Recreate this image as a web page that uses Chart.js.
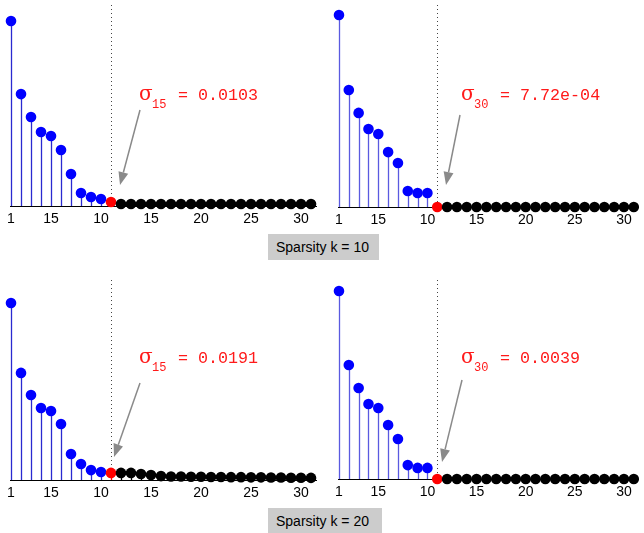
<!DOCTYPE html>
<html>
<head>
<meta charset="utf-8">
<script src="https://cdn.jsdelivr.net/npm/chart.js@4.4.1/dist/chart.umd.min.js"></script>
<style>
  body { margin: 0; background: #fff; width: 644px; height: 533px; overflow: hidden; position: relative; }
  canvas { position: absolute; }
  .box { position: absolute; background: #cccccc; font-family: "Liberation Sans", Arial, sans-serif; font-size: 14px; color: #000; box-sizing: border-box; padding-left: 8px; line-height: 26px; }
</style>
</head>
<body>
<canvas id="p1" width="322" height="230" style="left:0;top:0"></canvas>
<canvas id="p2" width="322" height="231" style="left:322px;top:0"></canvas>
<canvas id="p3" width="322" height="239" style="left:0;top:265px"></canvas>
<canvas id="p4" width="322" height="238" style="left:322px;top:265px"></canvas>
<div class="box" id="box1" style="left:268px;top:234px;width:111px;height:26px"></div>
<div class="box" id="box2" style="left:268px;top:508px;width:114px;height:25px"></div>
<script>
// index of each singular value
const idx = [1, 2, 3, 4, 5, 6, 7, 8, 9, 10, 11, 12, 13, 14, 15, 16, 17, 18, 19, 20,
  21, 22, 23, 24, 25, 26, 27, 28, 29, 30, 31];

// normalised values
const k10Left = [1, 0.605, 0.481, 0.4, 0.378, 0.303, 0.173, 0.07, 0.049, 0.038, 0.022,
  0.011, 0.011, 0.011, 0.011, 0.011, 0.011, 0.011, 0.011, 0.011, 0.011,
  0.011, 0.011, 0.011, 0.011, 0.011, 0.011, 0.011, 0.011, 0.011, 0.011];
const k10Right = [1, 0.609, 0.49, 0.406, 0.38, 0.286, 0.229, 0.083, 0.073, 0.073, 0,
  0, 0, 0, 0, 0, 0, 0, 0, 0, 0, 0, 0, 0, 0, 0, 0, 0, 0, 0, 0];
const k20Left = [1, 0.605, 0.48, 0.407, 0.39, 0.316, 0.147, 0.09, 0.056, 0.045, 0.04,
  0.04, 0.04, 0.034, 0.028, 0.022, 0.02, 0.02, 0.018, 0.018, 0.017,
  0.017, 0.016, 0.016, 0.015, 0.015, 0.014, 0.014, 0.013, 0.013, 0.012];
const k20Right = [1, 0.606, 0.484, 0.399, 0.378, 0.287, 0.213, 0.074, 0.059, 0.059, 0,
  0, 0, 0, 0, 0, 0, 0, 0, 0, 0, 0, 0, 0, 0, 0, 0, 0, 0, 0, 0];

const tickVals = [1, 5, 10, 15, 20, 25, 30];
const tickLabels = ["1", "15", "10", "15", "20", "25", "30"];

const sigmaSubs = ["15", "30", "15", "30"];
const sigmaTexts = ["0.0103", "7.72e-04", "0.0191", "0.0039"];
const sparsityLabels = ["Sparsity k = 10", "Sparsity k = 20"];
const supportSize = 10;

document.getElementById("box1").textContent = sparsityLabels[0];
document.getElementById("box2").textContent = sparsityLabels[1];

function pointColor(i) {
  if (idx[i] <= supportSize) return "#0000ff";
  if (idx[i] === supportSize + 1) return "#ff0000";
  return "#000000";
}

// stems, dotted cut line, sigma label and arrow
const stemPlugin = {
  id: "stems",
  beforeDatasetsDraw(chart, args, opts) {
    const { ctx, scales } = chart;
    const x = scales.x, y = scales.y;
    const base = y.getPixelForValue(0);
    ctx.save();
    // dotted line at the cut
    ctx.strokeStyle = "#444";
    ctx.lineWidth = 1;
    ctx.setLineDash([1, 3]);
    const cx = Math.round(x.getPixelForValue(supportSize + 1)) + 0.5;
    ctx.beginPath();
    ctx.moveTo(cx, opts.dotTop);
    ctx.lineTo(cx, base);
    ctx.stroke();
    ctx.setLineDash([]);
    const data = chart.data.datasets[0].data;
    data.forEach((p, i) => {
      const px = Math.round(x.getPixelForValue(p.x)) + 0.5;
      ctx.strokeStyle = idx[i] <= supportSize ? opts.stemColor : pointColor(i);
      ctx.lineWidth = 1.3;
      ctx.beginPath();
      ctx.moveTo(px, base);
      ctx.lineTo(px, y.getPixelForValue(p.y));
      ctx.stroke();
    });
    ctx.restore();
  },
  afterDatasetsDraw(chart, args, opts) {
    const { ctx } = chart;
    ctx.save();
    ctx.fillStyle = "#ff1a1a";
    ctx.textBaseline = "alphabetic";
    ctx.font = "20px 'DejaVu Serif', serif";
    ctx.fillText("σ", opts.tx - 1, opts.ty);
    ctx.font = "12px 'Liberation Mono', 'Courier New', monospace";
    ctx.fillText(opts.sub, opts.tx + 12, opts.ty + 8);
    ctx.font = "16.7px 'Liberation Mono', 'Courier New', monospace";
    ctx.fillText("= " + opts.val, opts.tx + 38, opts.ty);
    // arrow
    const [x0, y0, x1, y1] = opts.arrow;
    const ang = Math.atan2(y1 - y0, x1 - x0);
    const hl = 13, hw = 5;
    const bx = x1 - hl * Math.cos(ang), by = y1 - hl * Math.sin(ang);
    ctx.strokeStyle = "#8a8a8a";
    ctx.fillStyle = "#8a8a8a";
    ctx.lineWidth = 1.5;
    ctx.beginPath();
    ctx.moveTo(x0, y0);
    ctx.lineTo(bx, by);
    ctx.stroke();
    ctx.beginPath();
    ctx.moveTo(x1, y1);
    ctx.lineTo(bx + hw * Math.sin(ang), by - hw * Math.cos(ang));
    ctx.lineTo(bx - hw * Math.sin(ang), by + hw * Math.cos(ang));
    ctx.closePath();
    ctx.fill();
    ctx.restore();
  }
};

function makePanel(id, vals, n, pad, stemColor, dotTop, ty, arrow) {
  return new Chart(document.getElementById(id), {
    type: "scatter",
    data: {
      datasets: [{
        data: idx.map((v, i) => ({ x: v, y: vals[i] })),
        pointRadius: 5.3,
        pointHoverRadius: 5.3,
        pointBorderWidth: 0,
        pointBackgroundColor: idx.map((v, i) => pointColor(i)),
        pointBorderColor: idx.map((v, i) => pointColor(i)),
        clip: false
      }]
    },
    options: {
      responsive: false,
      animation: false,
      devicePixelRatio: 1,
      layout: { padding: pad },
      plugins: {
        legend: { display: false },
        tooltip: { enabled: false },
        stems: { stemColor: stemColor, dotTop: dotTop, tx: 140, ty: ty, sub: sigmaSubs[n], val: sigmaTexts[n], arrow: arrow }
      },
      scales: {
        x: {
          type: "linear",
          min: 0.9,
          max: 31.5,
          grid: { display: false, drawTicks: false },
          border: { display: true, color: "#000", width: 1 },
          afterBuildTicks: (s) => { s.ticks = tickVals.map(v => ({ value: v })); },
          afterFit: (s) => { s.height = 24; },
          ticks: {
            autoSkip: false,
            maxRotation: 0,
            padding: 5,
            color: "#000",
            font: { family: "'Liberation Sans', Arial, sans-serif", size: 14 },
            callback: (v) => tickLabels[tickVals.indexOf(v)]
          }
        },
        y: { display: false, min: 0, max: 1 }
      }
    },
    plugins: [stemPlugin]
  });
}

makePanel("p1", k10Left, 0, { left: 10, right: 6, top: 21, bottom: 0 }, "#2a2ad0", 5, 100, [140, 110, 120, 185]);
makePanel("p2", k10Right, 1, { left: 16, right: 0, top: 15, bottom: 0 }, "#5a5ae0", 5, 100, [138, 115, 124, 185]);
makePanel("p3", k20Left, 2, { left: 10, right: 6, top: 38, bottom: 0 }, "#2a2ad0", 15, 98, [140, 118, 114, 192]);
makePanel("p4", k20Right, 3, { left: 16, right: 0, top: 26, bottom: 0 }, "#5a5ae0", 15, 98, [140, 115, 120, 197]);
</script>
</body>
</html>
